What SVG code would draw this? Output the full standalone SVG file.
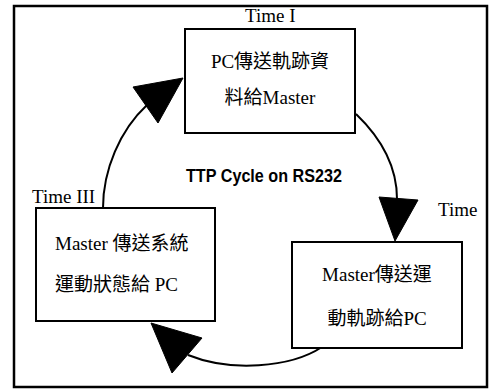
<svg xmlns="http://www.w3.org/2000/svg" width="491" height="390" viewBox="0 0 491 390">
<style>
.box{fill:#fff;stroke:#000;stroke-width:2}
.t{font-family:"Liberation Serif","Noto Sans CJK TC",serif;font-size:19px;fill:#000}
.c{text-anchor:middle}
.edge{fill:none;stroke:#000;stroke-width:2}
.head{fill:#000;stroke:#000;stroke-width:1}
</style>
<rect x="14" y="6" width="473" height="381" fill="#fff" stroke="#000" stroke-width="2.5"/>
<g id="connectors">
<path class="edge" d="M103,208 C103,170 120,130 147,105"/>
<polygon class="head" points="183,78 133,87 158,123"/>
<path class="edge" d="M356,114 C380,137 397,165 397,199"/>
<polygon class="head" points="395,241 379,197 418,200"/>
<path class="edge" d="M322,347 C290,368 230,372 188,355"/>
<polygon class="head" points="151,323 202,338 172,373"/>
</g>
<g id="node-time1">
<rect class="box" x="185" y="29" width="170" height="104"/>
<text class="t c" x="270" y="68">PC傳送軌跡資</text>
<text class="t c" x="270" y="104">料給Master</text>
</g>
<g id="node-time2">
<rect class="box" x="292" y="242" width="170" height="106"/>
<text class="t c" x="377" y="281">Master傳送運</text>
<text class="t c" x="377" y="325">動軌跡給PC</text>
</g>
<g id="node-time3">
<rect class="box" x="36" y="208" width="179" height="113"/>
<text class="t" x="55" y="250">Master 傳送系統</text>
<text class="t" x="55" y="291">運動狀態給 PC</text>
</g>
<g id="labels">
<text class="t" x="245" y="22">Time I</text>
<text class="t" x="32" y="203">Time III</text>
<text class="t" x="438" y="216">Time</text>
<text x="186" y="182" textLength="156" lengthAdjust="spacingAndGlyphs" font-family="'Liberation Sans',sans-serif" font-weight="bold" font-size="18" fill="#000">TTP Cycle on RS232</text>
</g>
</svg>
